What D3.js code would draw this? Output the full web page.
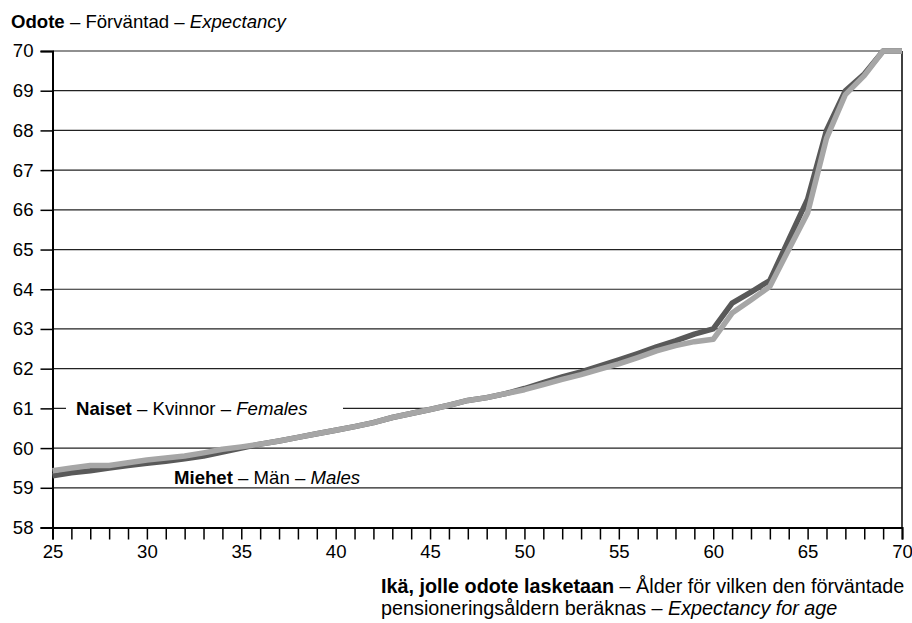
<!DOCTYPE html>
<html><head><meta charset="utf-8">
<script src="https://cdn.jsdelivr.net/npm/d3@7"></script>
<style>body{margin:0;background:#fff}svg{font-family:Arial,"Liberation Sans",sans-serif}</style>
</head><body><svg id="c" width="912" height="623"></svg>
<script>
const ages = d3.range(25, 71);
const males = [59.30,59.38,59.43,59.50,59.56,59.62,59.67,59.73,59.80,59.90,
  60.00,60.10,60.18,60.27,60.36,60.45,60.54,60.64,60.77,60.87,
  60.97,61.08,61.20,61.27,61.37,61.50,61.65,61.79,61.92,62.07,
  62.22,62.38,62.55,62.70,62.87,63.00,63.65,63.93,64.22,65.25,
  66.27,68.00,69.00,69.42,70.00,70.00];
const females = [59.43,59.50,59.56,59.56,59.63,59.70,59.75,59.80,59.88,59.97,
  60.03,60.10,60.18,60.27,60.36,60.45,60.54,60.64,60.77,60.87,
  60.97,61.08,61.20,61.27,61.37,61.47,61.60,61.73,61.85,61.99,
  62.12,62.28,62.45,62.58,62.68,62.74,63.40,63.73,64.07,65.00,
  65.92,67.80,68.90,69.38,70.00,70.00];
const yTicks = d3.range(58, 71);
const xLabels = [25,30,35,40,45,50,55,60,65,70];

const FS = 18.6;
const svg = d3.select("#c");
const L = 52.5, R = 902, T = 51, B = 527.5;
const x = d3.scaleLinear().domain([25,70]).range([L,R]);
const y = d3.scaleLinear().domain([58,70]).range([B,T]);

// gridlines
svg.append("g").selectAll("line").data(yTicks.filter(v=>v>58)).join("line")
  .attr("x1",L).attr("x2",R).attr("y1",d=>y(d)).attr("y2",d=>y(d))
  .attr("stroke","#222").attr("stroke-width",1.2);
// right border
svg.append("line").attr("x1",R).attr("x2",R).attr("y1",T).attr("y2",B).attr("stroke","#111").attr("stroke-width",1.6);

// y axis
const ya = svg.append("g").attr("transform",`translate(${L},0)`)
  .call(d3.axisLeft(y).tickValues(yTicks).tickSize(12).tickPadding(7).tickFormat(d3.format("d")));
ya.select(".domain").attr("stroke","#000").attr("stroke-width",2);
ya.selectAll(".tick line").attr("stroke","#000").attr("stroke-width",1.5);
ya.selectAll("text").attr("font-size",FS).attr("fill","#000").attr("font-family","Arial, Liberation Sans");

// x axis
const xa = svg.append("g").attr("transform",`translate(0,${B})`)
  .call(d3.axisBottom(x).tickValues(ages).tickSize(12).tickPadding(5)
    .tickFormat(d=>xLabels.includes(d)?d:""));
xa.select(".domain").attr("stroke","#000").attr("stroke-width",2);
xa.selectAll(".tick line").attr("stroke","#000").attr("stroke-width",1.5);
xa.selectAll("text").attr("font-size",FS).attr("fill","#000").attr("font-family","Arial, Liberation Sans");

// lines
const line = d3.line().x((d,i)=>x(ages[i])).y(d=>y(d));
svg.append("path").datum(males).attr("d",line).attr("fill","none")
  .attr("stroke","#595959").attr("stroke-width",5.5).attr("stroke-linejoin","round");
svg.append("path").datum(females).attr("d",line).attr("fill","none")
  .attr("stroke","#a6a6a6").attr("stroke-width",5.5).attr("stroke-linejoin","round");

// labels
function rich(g, parts, xx, yy, fs){
  const t = g.append("text").attr("x",xx).attr("y",yy).attr("font-size",fs||FS).attr("fill","#000");
  parts.forEach(p=>t.append("tspan").text(p[0]).attr("font-weight",p[1]==="b"?"bold":null).attr("font-style",p[1]==="i"?"italic":null));
  return t;
}
svg.append("rect").attr("x",66).attr("y",y(61)-11).attr("width",277).attr("height",22).attr("fill","#fff");
rich(svg, [["Naiset","b"],[" – Kvinnor – ",""],["Females","i"]], 76, y(61)+7);
rich(svg, [["Miehet","b"],[" – Män – ",""],["Males","i"]], 174, y(59)-3.5);
rich(svg, [["Odote","b"],[" – Förväntad – ",""],["Expectancy","i"]], 11, 28);
rich(svg, [["Ikä, jolle odote lasketaan","b"],[" – Ålder för vilken den förväntade",""]], 381, 593, 19.8);
rich(svg, [["pensioneringsåldern beräknas – ",""],["Expectancy for age","i"]], 381, 615, 19.8);
</script></body></html>
